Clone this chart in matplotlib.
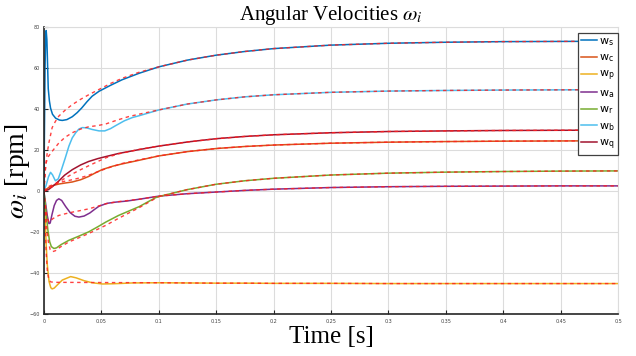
import matplotlib
matplotlib.use('Agg')
import matplotlib.pyplot as plt
import numpy as np

plt.rcParams['font.family'] = ['Liberation Serif', 'DejaVu Serif']
plt.rcParams['mathtext.fontset'] = 'stix'

# late part (t >= 0.1), shared by measured and reference curves
t_late = [0.1, 0.125, 0.15, 0.175, 0.2, 0.25, 0.3, 0.35, 0.4, 0.45, 0.5]
ws_late = [60.6, 63.9, 66.3, 68.1, 69.5, 71.2, 72.1, 72.6, 72.9, 73.0, 73.1]
wc_late = [17.2, 19.3, 20.8, 21.8, 22.5, 23.4, 23.9, 24.2, 24.4, 24.5, 24.6]
wp_late = [-44.6, -44.7, -44.8, -44.8, -44.9, -44.9, -45.0, -45.0, -45.0, -45.0, -45.0]
wa_late = [-2.4, -1.2, -0.4, 0.4, 1.0, 1.8, 2.2, 2.4, 2.5, 2.6, 2.6]
wr_late = [-2.6, 0.8, 3.4, 5.1, 6.3, 7.9, 8.8, 9.3, 9.6, 9.8, 9.9]
wb_late = [39.6, 42.5, 44.5, 46.0, 47.0, 48.2, 48.8, 49.1, 49.3, 49.4, 49.5]
wq_late = [22.0, 24.0, 25.6, 26.7, 27.5, 28.5, 29.1, 29.4, 29.6, 29.7, 29.8]

# early part, measured
ws_t = [0, 0.0005, 0.001, 0.0016, 0.002, 0.0026, 0.0032, 0.0038, 0.0048, 0.0058, 0.0075,
        0.0102, 0.0135, 0.016, 0.02, 0.0247, 0.029, 0.033, 0.0375, 0.042, 0.048, 0.058, 0.068, 0.083]
ws_v = [0, 30, 60, 76, 78.3, 74, 62, 50, 44, 40.5, 37.5,
        35.6, 34.7, 34.5, 34.9, 36.3, 38.3, 40.6, 43.6, 46.3, 48.7, 51.6, 54.3, 57.5]
wc_t = [0, 0.0044, 0.008, 0.013, 0.0185, 0.0247, 0.032, 0.039, 0.045, 0.051, 0.06, 0.068, 0.083]
wc_v = [0, 1.9, 2.8, 3.5, 4.0, 4.5, 5.6, 7.2, 9.0, 10.6, 12.2, 13.3, 15.1]
wp_t = [0, 0.001, 0.002, 0.003, 0.0045, 0.006, 0.0072, 0.009, 0.012, 0.016, 0.0233,
        0.028, 0.035, 0.042, 0.051, 0.06, 0.077]
wp_v = [0, -12, -26, -36, -44, -47, -47.6, -47.2, -45.5, -43.3, -41.6,
        -42.2, -43.6, -44.6, -45.2, -45.1, -44.7]
wa_t = [0, 0.0015, 0.003, 0.0044, 0.0055, 0.007, 0.009, 0.011, 0.013, 0.0155, 0.019,
        0.023, 0.027, 0.0305, 0.035, 0.04, 0.044, 0.048, 0.055, 0.0626, 0.072, 0.083]
wa_v = [0, -6, -12, -15.8, -15.5, -11.5, -7, -4.5, -3.7, -4.5, -7.5,
        -10.5, -12.2, -12.6, -12.1, -10.6, -8.9, -7.3, -5.9, -5.3, -4.8, -3.9]
wr_t = [0, 0.001, 0.002, 0.0035, 0.005, 0.0065, 0.0087, 0.011, 0.015, 0.0218, 0.03,
        0.039, 0.047, 0.054, 0.065, 0.083, 0.097]
wr_v = [0, -5, -11, -19, -24.5, -27, -27.9, -27.6, -26, -23.9, -22,
        -19.8, -17.3, -15, -11.8, -7.5, -3.2]
wb_t = [0, 0.002, 0.004, 0.0058, 0.0075, 0.010, 0.0125, 0.015, 0.0185, 0.0218, 0.0247,
        0.0277, 0.0305, 0.0334, 0.037, 0.042, 0.048, 0.053, 0.058, 0.0626, 0.07, 0.077, 0.083]
wb_v = [0, 3, 7, 9.2, 8, 5.1, 6, 10, 16, 22, 26,
        28.5, 30.3, 31, 30.9, 30.1, 29.4, 29.4, 30.5, 32, 34.3, 35.9, 36.8]
wq_t = [0, 0.004, 0.008, 0.013, 0.018, 0.0247, 0.032, 0.039, 0.047, 0.054, 0.065, 0.083]
wq_v = [0, 0.8, 2.5, 5.0, 7.8, 10.5, 12.8, 14.5, 15.9, 16.9, 18.4, 20.3]

# early part, reference (dashed)
ws_ref_t = [0, 0.0008, 0.0015, 0.003, 0.0044, 0.0072, 0.01, 0.013, 0.0185, 0.0247,
            0.032, 0.039, 0.048, 0.058, 0.068, 0.083]
ws_ref_v = [0, 6, 12.4, 19, 23.7, 31, 34, 36.6, 39.5, 42.2,
            44.8, 47, 49.6, 52.5, 55, 58]
wc_ref_t = [0, 0.003, 0.008, 0.013, 0.0185, 0.0247, 0.032, 0.039, 0.047, 0.055, 0.068, 0.083]
wc_ref_v = [0, 2, 3.3, 4.2, 4.9, 5.6, 6.6, 7.8, 9.5, 11.2, 13.5, 15.3]
wp_ref_t = [0, 0.001, 0.002, 0.003, 0.0044, 0.006, 0.01, 0.05]
wp_ref_v = [0, -15, -30, -39, -43.3, -44.2, -44.4, -44.5]
wa_ref_t = [0, 0.0015, 0.003, 0.0044, 0.008, 0.013, 0.0185, 0.0247, 0.032, 0.039,
            0.047, 0.054, 0.063, 0.072, 0.083]
wa_ref_v = [0, -8, -13.5, -15, -13.3, -11.8, -11, -10.2, -9.4, -8.6,
            -7.3, -6.1, -5.2, -4.6, -3.9]
wr_ref_t = [0, 0.001, 0.0025, 0.004, 0.0055, 0.0072, 0.01, 0.014, 0.0218, 0.03,
            0.039, 0.047, 0.054, 0.065, 0.083]
wr_ref_v = [0, -8, -18, -25, -28.5, -29.5, -29, -27.3, -24.7, -22.8,
            -20.6, -18.5, -16.6, -13.2, -8]
wb_ref_t = [0, 0.001, 0.002, 0.004, 0.008, 0.013, 0.0185, 0.0247, 0.032, 0.039,
            0.047, 0.054, 0.064, 0.074, 0.085]
wb_ref_v = [0, 9, 14, 17, 20, 23.5, 26.3, 28.5, 30.3, 31.4,
            32, 32.8, 34.7, 36.4, 37.8]
wq_ref_t = [0, 0.004, 0.008, 0.013, 0.0185, 0.0247, 0.032, 0.039, 0.047, 0.054, 0.065, 0.083]
wq_ref_v = [0, 1.2, 2.5, 4.4, 6.4, 8.4, 10.5, 12.4, 14.5, 16.3, 18.2, 20.4]

labels = ['s', 'c', 'p', 'a', 'r', 'b', 'q']
colors = ['#0072BD', '#D95319', '#EDB120', '#7E2F8E', '#77AC30', '#4DBEEE', '#A2142F']
solid = [(ws_t, ws_v, ws_late), (wc_t, wc_v, wc_late), (wp_t, wp_v, wp_late),
         (wa_t, wa_v, wa_late), (wr_t, wr_v, wr_late), (wb_t, wb_v, wb_late),
         (wq_t, wq_v, wq_late)]
refs = [(ws_ref_t, ws_ref_v), (wc_ref_t, wc_ref_v), (wp_ref_t, wp_ref_v),
        (wa_ref_t, wa_ref_v), (wr_ref_t, wr_ref_v), (wb_ref_t, wb_ref_v),
        (wq_ref_t, wq_ref_v)]

fig = plt.figure(figsize=(6.36, 3.56), dpi=100)
ax = fig.add_axes([0.069, 0.117, 0.903, 0.807])

for (t, v, late), lab, c in zip(solid, labels, colors):
    ax.plot(t + t_late, v + late, color=c, linewidth=1.1, label=r'$\mathregular{w_%s}$' % lab)
for (t, v), (_, _, late) in zip(refs, solid):
    ax.plot(t + t_late, v + late, color='#FF2020', linestyle=(0, (2.5, 2.5)),
            linewidth=1.0, alpha=0.85)

ax.set_xlim(0, 0.5)
ax.set_ylim(-60, 80)
ax.set_xticks(np.arange(0, 0.51, 0.05))
ax.set_xticklabels(['0', '0.05', '0.1', '0.15', '0.2', '0.25', '0.3', '0.35', '0.4', '0.45', '0.5'])
ax.set_yticks(np.arange(-60, 81, 20))
ax.tick_params(direction='in', length=3, width=0.8, labelsize=3.5, colors='#262626',
               labelcolor='#404040', pad=3)
for lbl in ax.get_xticklabels() + ax.get_yticklabels():
    lbl.set_family('DejaVu Sans')
ax.grid(True, color='#DCDCDC', linewidth=0.8)
ax.set_axisbelow(True)
ax.spines['left'].set_color('#262626')
ax.spines['bottom'].set_color('#262626')
ax.spines['left'].set_linewidth(1.2)
ax.spines['bottom'].set_linewidth(1.2)
ax.spines['top'].set_color('#DCDCDC')
ax.spines['right'].set_color('#DCDCDC')

ax.set_title(r'Angular Velocities $\omega_i$', fontsize=15, pad=4)
ax.set_xlabel('Time [s]', fontsize=18, labelpad=2)
ax.set_ylabel(r'$\omega_i$ [rpm]', fontsize=20, labelpad=-2)

leg = ax.legend(loc='upper right', bbox_to_anchor=(1.0, 0.98), borderaxespad=0,
                handlelength=1.4, handletextpad=0.2, labelspacing=0.42,
                borderpad=0.3, fancybox=False, framealpha=1,
                prop={'family': 'DejaVu Sans', 'size': 8})
leg.get_frame().set_edgecolor('#404040')
leg.get_frame().set_linewidth(0.9)

fig.savefig('out.png', dpi=100)
